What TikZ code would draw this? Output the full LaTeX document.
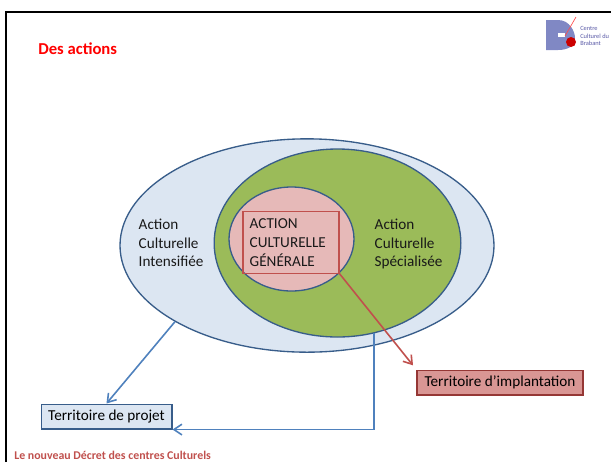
\documentclass[tikz,border=0pt]{standalone}
\usepackage{fontspec}
\setmainfont{Carlito}
\usetikzlibrary{shapes.geometric,arrows.meta}
\definecolor{ligneb}{HTML}{385D8A}
\definecolor{fleche}{HTML}{4F81BD}
\definecolor{bleuc}{HTML}{DCE6F2}
\definecolor{vert}{HTML}{9BBB59}
\definecolor{rosec}{HTML}{E6B9B8}
\definecolor{rouge}{HTML}{C0504D}
\definecolor{roseb}{HTML}{D99694}
\definecolor{rougeb}{HTML}{953735}
\definecolor{logob}{HTML}{8088C4}
\begin{document}
\begin{tikzpicture}
		[x=0.75pt,y=-0.75pt,
		zone/.style={ellipse,draw=ligneb,line width=1pt,inner sep=0pt},
		texte/.style={font=\fontsize{11.4}{14}\selectfont,align=left,anchor=west,text=black!90},
		territoire/.style={line width=1pt,font=\fontsize{11.4}{14}\selectfont,inner sep=0pt,minimum height=18.5pt},
		bluearrow/.style={draw=fleche,line width=1.2pt,-{Straight Barb[length=6pt,width=8pt]}},
		redarrow/.style={draw=rouge,line width=1.2pt,-{Straight Barb[length=6pt,width=8pt]}}]
		\useasboundingbox (0,0) rectangle (611,462);
		\draw[line width=2pt] (6,462) -- (6,12) -- (611,12);
		\node[font=\fontsize{12.5}{14}\selectfont\bfseries,text=red,anchor=west,inner sep=0pt,name=titre] at (38,49) {Des actions};
		% logo
		\fill[logob] (546,20) -- (558,20) .. controls (570,20) and (575,32) .. (575,38) .. controls (575,46) and (568,50) .. (558,50) -- (546,50) -- cycle;
		\fill[white] (558,33) rectangle (565,37);
		\fill[red!80!black] (571,42) circle (5);
		\draw[red!70!white,line width=0.5pt] (576,17) -- (565,36);
		\node[font=\fontsize{4.8}{5.4}\selectfont,text=blue!30!gray,align=left,anchor=west,inner sep=0pt,name=logo] at (580,36) {Centre\\Culturel du\\Brabant};
		% ellipses
		\node[zone,fill=bleuc,minimum width=280.5pt,minimum height=160pt,name=outer] at (307,245.5) {};
		\node[zone,fill=vert,minimum width=185pt,minimum height=141pt,name=middle] at (337.5,243) {};
		\node[zone,fill=rosec,minimum width=93.75pt,minimum height=78pt,name=inner] at (291.5,239) {};
		\node[draw=rouge,line width=0.8pt,inner sep=0pt,minimum width=72pt,minimum height=46pt,name=centre] at (291,242.5) {};
		\node[texte,name=generale] at (245,242.5) {ACTION\\CULTURELLE\\GÉNÉRALE};
		\node[texte,name=intens] at (134,243) {Action\\Culturelle\\Intensifiée};
		\node[texte,name=special] at (370,244) {Action\\Culturelle\\Spécialisée};
		% territoires
		\node[territoire,draw=ligneb,fill=bleuc,minimum width=98pt,name=projet] at (106.5,416.5) {Territoire de projet};
		\node[territoire,draw=rougeb,fill=roseb,minimum width=124.5pt,name=implant] at (500,382.5) {Territoire d’implantation};
		\draw[bluearrow] (outer.210) -- (projet.north);
		\draw[bluearrow] (middle.292) |- (projet.south east);
		\draw[redarrow,shorten >=4pt] (centre.south east) -- (implant.north west);
		\node[font=\fontsize{8.9}{10}\selectfont\bfseries,text=rouge,anchor=west,inner sep=0pt,name=pied] at (14,455) {Le nouveau Décret des centres Culturels};
	\end{tikzpicture}
\end{document}
